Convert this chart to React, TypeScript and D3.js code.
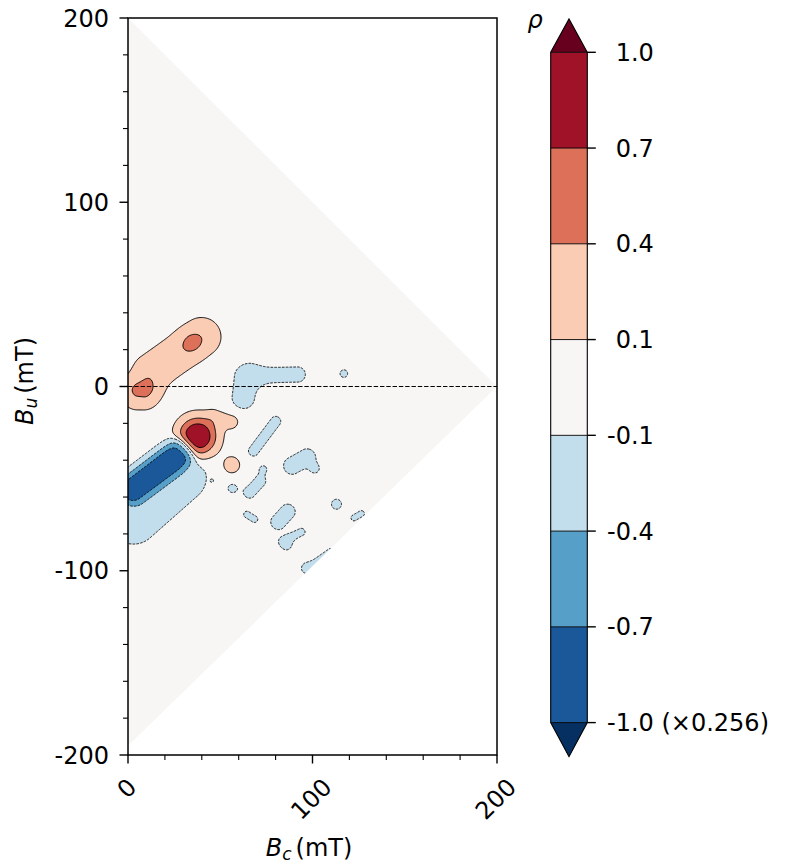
import React, { useMemo } from 'react';
import * as d3 from 'd3';

// ---- axis / colorbar data ----
const bcMajorTicks = [0, 100, 200];
const buMajorTicks = [200, 100, 0, -100, -200];
const minorStep = 20;
const levels = [-1.0, -0.7, -0.4, -0.1, 0.1, 0.4, 0.7, 1.0];
const levelLabels = ['-1.0 (×0.256)', '-0.7', '-0.4', '-0.1', '0.1', '0.4', '0.7', '1.0'];
// under, 7 bands, over (RdBu_r sampled at band midpoints)
const bandColors = ['#053061', '#1a5899', '#569fc9', '#c2ddec', '#f7f6f5', '#fbccb4', '#dd7059', '#9f1228', '#67001f'];

// ---- FORC features (Bc, Bu in mT; amplitude in rho units) ----
// each feature: segment (bc1,bu1)-(bc2,bu2), amplitude, spread above-left / below-right, profile power
const featBc1 = [5, 13, 34.7, 37.6, 47, 56, 2, 3, 62.5, 68, 117, 68, 89, 101.4, 73.3, 56.7, 66, 64.5, 81.5, 84, 86.2, 113, 122.5, 97.5, 96.5, 45.7, 141];
const featBu1 = [-2.5, 7.8, 24, -27.2, -17, -42.6, -55.3, -72, -6, 6, 7, -35, -43, -44.8, -44.8, -55.2, -57.5, -69.5, -73.5, -84, -86.5, -63.9, -71.3, -98, -99, -51.1, -58.9];
const featBc2 = [8.5, 40, 34.7, 37.6, 56, 56, 27, 29, 64, 92, 117, 80, 97, 101.4, 73.3, 56.7, 71.5, 68.5, 86.5, 94, 86.2, 113, 126.5, 109.5, 96.5, 45.7, 141];
const featBu2 = [-2.5, 27, 24, -27.2, -19, -42.6, -36.5, -49, 5, 6.5, 7, -19, -38.5, -44.8, -44.8, -55.2, -51.5, -72, -68, -79, -86.5, -63.9, -69, -89.5, -99, -51.1, -58.9];
const featAmp = [0.415, 0.3, 0.22, 1.01, 0.17, 0.18, -0.83, -0.25, -0.21, -0.17, -0.14, -0.17, -0.18, -0.13, -0.13, -0.13, -0.17, -0.15, -0.18, -0.15, -0.13, -0.15, -0.14, -0.14, -0.13, -0.06, -0.103];
const featSpreadA = [5, 7, 4.5, 7.8, 3.5, 4.2, 6.3, 10, 5, 4, 2.5, 2.7, 4.3, 2.3, 2.3, 3, 3, 2, 3.8, 2.2, 2.5, 3, 2, 1.8, 2.5, 1, 1];
const featSpreadB = [6, 7, 4.5, 7.8, 3.5, 4.2, 6.8, 10, 5, 4, 2.5, 2.7, 4.3, 2.3, 2.3, 3, 3, 2, 3.8, 2.2, 2.5, 3, 2, 1.8, 2.5, 1, 1];
const featPower = [2, 2, 2, 2.5, 2, 2, 3, 2, 2, 2, 2, 2, 2, 2, 2, 2, 2, 2, 2, 2, 2, 2, 2, 2, 2, 2, 2];

// data region (triangle) corners
const regionBc = [0, 200, 0];
const regionBu = [200, 0, -195];

const GRID = { step: 0.5, bc0: -4, bc1: 204, bu0: -204, bu1: 204 };

function buildField() {
  const { step, bc0, bc1, bu0, bu1 } = GRID;
  const nx = Math.round((bc1 - bc0) / step) + 1;
  const ny = Math.round((bu1 - bu0) / step) + 1;
  const vals = new Float64Array(nx * ny);
  for (let f = 0; f < featAmp.length; f++) {
    const ax = featBc1[f], ay = featBu1[f];
    const dx = featBc2[f] - ax, dy = featBu2[f] - ay;
    const len = Math.hypot(dx, dy);
    const ux = len > 0 ? dx / len : 1, uy = len > 0 ? dy / len : 0;
    const sA = featSpreadA[f], sB = featSpreadB[f], sE = (sA + sB) / 2;
    const amp = featAmp[f];
    const half = featPower[f] / 2;
    const R = 5 * Math.max(sA, sB);
    const iMin = Math.max(0, Math.floor((Math.min(ax, ax + dx) - R - bc0) / step));
    const iMax = Math.min(nx - 1, Math.ceil((Math.max(ax, ax + dx) + R - bc0) / step));
    const jMin = Math.max(0, Math.floor((Math.min(ay, ay + dy) - R - bu0) / step));
    const jMax = Math.min(ny - 1, Math.ceil((Math.max(ay, ay + dy) + R - bu0) / step));
    for (let j = jMin; j <= jMax; j++) {
      const py = bu0 + j * step;
      for (let i = iMin; i <= iMax; i++) {
        const px = bc0 + i * step;
        const vx = px - ax, vy = py - ay;
        const t = vx * ux + vy * uy;
        const perp = ux * vy - uy * vx;
        const beyond = t < 0 ? -t : t > len ? t - len : 0;
        const s = perp >= 0 ? sA : sB;
        const q = (beyond * beyond) / (sE * sE) + (perp * perp) / (s * s);
        vals[i + j * nx] += amp * Math.exp(-0.5 * Math.pow(q, half));
      }
    }
  }
  return { vals, nx, ny };
}

export default function App() {
  const W = 788, H = 866;
  const x = d3.scaleLinear().domain([0, 200]).range([128, 497]);
  const y = d3.scaleLinear().domain([-200, 200]).range([755, 18]);
  // colorbar: levels are evenly spaced along the bar
  const cb = d3.scaleLinear().domain([0, levels.length - 1]).range([722.6, 52.3]);
  const cbX0 = 550.7, cbX1 = 587.3, cbMid = (cbX0 + cbX1) / 2;

  const { pos, neg } = useMemo(() => {
    const { vals, nx, ny } = buildField();
    const posThr = levels.filter((l) => l > 0);
    const negVals = Array.from(vals, (v) => -v);
    const gen = d3.contours().size([nx, ny]).thresholds(posThr);
    const tr = d3.geoTransform({
      point(px: number, py: number) {
        const bc = GRID.bc0 + (px - 0.5) * GRID.step;
        const bu = GRID.bu0 + (py - 0.5) * GRID.step;
        (this as any).stream.point(x(bc), y(bu));
      },
    });
    const path = d3.geoPath(tr);
    const posC = gen(Array.from(vals)).map((c) => ({ v: c.value, d: path(c as any) || '' }));
    const negC = gen(negVals).map((c) => ({ v: -c.value, d: path(c as any) || '' }));
    return { pos: posC, neg: negC };
  }, []);

  const colorFor = (v: number) => {
    if (v > 0) return bandColors[4 + levels.filter((l) => l > 0 && l <= v + 1e-9).length];
    return bandColors[4 - levels.filter((l) => l < 0 && l >= v - 1e-9).length];
  };

  const tri = regionBc.map((b, i) => `${x(b)},${y(regionBu[i])}`).join(' ');
  const minorBu = d3.range(-200, 201, minorStep).filter((v) => !buMajorTicks.includes(v));
  const minorBc = d3.range(0, 201, minorStep).filter((v) => !bcMajorTicks.includes(v));
  const fs = 24;
  const topY = cb(levels.length - 1), botY = cb(0);

  return (
    <svg width={W} height={H} style={{ position: 'absolute', left: 0, top: 0, background: '#fff' }}
      fontFamily="DejaVu Sans" fontSize={fs}>
      <defs>
        <clipPath id="region"><polygon points={tri} /></clipPath>
      </defs>
      <polygon points={tri} fill={bandColors[4]} />
      <g clipPath="url(#region)">
        {pos.map((c, i) => <path key={'pf' + i} d={c.d} fill={colorFor(c.v)} />)}
        {neg.map((c, i) => <path key={'nf' + i} d={c.d} fill={colorFor(c.v)} />)}
        {pos.map((c, i) => <path key={'pl' + i} d={c.d} fill="none" stroke="#000" strokeWidth={0.95} />)}
        {neg.map((c, i) => <path key={'nl' + i} d={c.d} fill="none" stroke="#000" strokeWidth={0.85} strokeDasharray="2.6,1.2" />)}
      </g>
      {/* zero line */}
      <line x1={x(0)} x2={x(200)} y1={y(0)} y2={y(0)} stroke="#000" strokeWidth={1.2} strokeDasharray="4.4,1.9" />
      {/* frame */}
      <rect x={x(0)} y={y(200)} width={x(200) - x(0)} height={y(-200) - y(200)} fill="none" stroke="#000" strokeWidth={1.5} />
      {/* y ticks */}
      {buMajorTicks.map((v) => (
        <g key={'yt' + v}>
          <line x1={x(0) - 8.5} x2={x(0)} y1={y(v)} y2={y(v)} stroke="#000" strokeWidth={1.4} />
          <text x={x(0) - 19} y={y(v)} dy="0.36em" textAnchor="end">{v < 0 ? '-' + Math.abs(v) : String(v)}</text>
        </g>
      ))}
      {minorBu.map((v) => <line key={'ym' + v} x1={x(0) - 5} x2={x(0)} y1={y(v)} y2={y(v)} stroke="#000" strokeWidth={1.1} />)}
      {/* x ticks */}
      {bcMajorTicks.map((v) => {
        const s = String(v);
        const ink = (s.length * 0.636 * fs - 2 + 17.5) / Math.SQRT2;
        const cx = x(v) - 1.5, cy = 777 + ink / 2;
        return (
          <g key={'xt' + v}>
            <line x1={x(v)} x2={x(v)} y1={y(-200)} y2={y(-200) + 8.5} stroke="#000" strokeWidth={1.4} />
            <text transform={`translate(${cx},${cy}) rotate(-45)`} textAnchor="middle" dy="0.365em">{s}</text>
          </g>
        );
      })}
      {minorBc.map((v) => <line key={'xm' + v} x1={x(v)} x2={x(v)} y1={y(-200)} y2={y(-200) + 5} stroke="#000" strokeWidth={1.1} />)}
      {/* axis labels */}
      <text x={309} y={856} textAnchor="middle">
        <tspan fontStyle="italic">B</tspan>
        <tspan fontStyle="italic" fontSize={17} dy={4}>c</tspan>
        <tspan dy={-4} dx={4}>(mT)</tspan>
      </text>
      <text transform={`translate(33,381) rotate(-90)`} textAnchor="middle">
        <tspan fontStyle="italic">B</tspan>
        <tspan fontStyle="italic" fontSize={17} dy={4}>u</tspan>
        <tspan dy={-4} dx={4}>(mT)</tspan>
      </text>
      {/* colorbar */}
      <text x={535} y={28} textAnchor="middle" fontStyle="italic">ρ</text>
      {levels.slice(0, -1).map((l, k) => (
        <rect key={'cb' + k} x={cbX0} y={cb(k + 1)} width={cbX1 - cbX0} height={cb(k) - cb(k + 1)} fill={bandColors[k + 1]} />
      ))}
      <polygon points={`${cbX0},${topY} ${cbMid},19 ${cbX1},${topY}`} fill={bandColors[8]} />
      <polygon points={`${cbX0},${botY} ${cbMid},756.7 ${cbX1},${botY}`} fill={bandColors[0]} />
      {levels.map((l, k) => <line key={'cbl' + l} x1={cbX0} x2={cbX1} y1={cb(k)} y2={cb(k)} stroke="#000" strokeWidth={0.9} />)}
      <path d={`M${cbX0},${topY} L${cbMid},19 L${cbX1},${topY} L${cbX1},${botY} L${cbMid},756.7 L${cbX0},${botY} Z`} fill="none" stroke="#000" strokeWidth={1.1} />
      {levels.map((l, k) => (
        <g key={'cbt' + l}>
          <line x1={cbX1} x2={cbX1 + 8.5} y1={cb(k)} y2={cb(k)} stroke="#000" strokeWidth={1.4} />
          <text x={607 + (levelLabels[k].startsWith('-') ? 0 : 8.7)} y={cb(k)} dy="0.36em">{levelLabels[k]}</text>
        </g>
      ))}
    </svg>
  );
}
